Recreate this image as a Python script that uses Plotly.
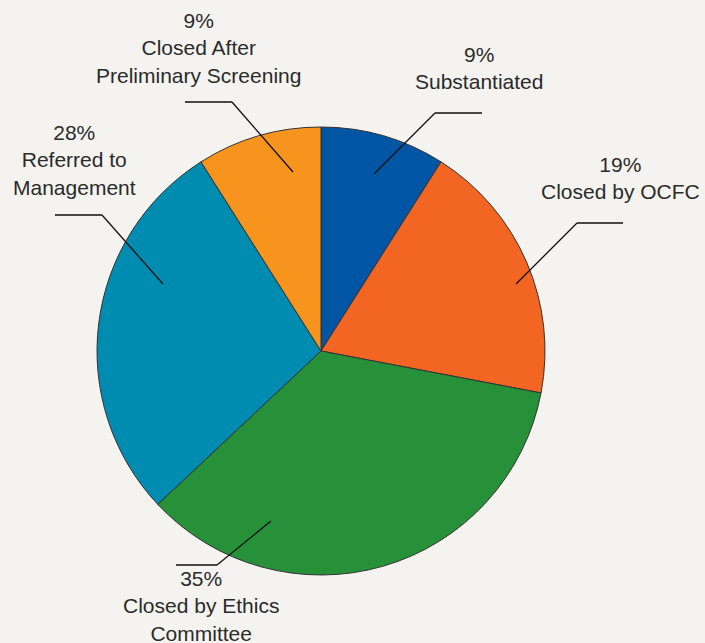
import plotly.graph_objects as go

# Complaint outcomes (share of cases, %)
categories = [
    "Substantiated",
    "Closed by OCFC",
    "Closed by Ethics Committee",
    "Referred to Management",
    "Closed After Preliminary Screening",
]
values = [9, 19, 35, 28, 9]
label_lines = [
    "Substantiated",
    "Closed by OCFC",
    "Closed by Ethics<br>Committee",
    "Referred to<br>Management",
    "Closed After<br>Preliminary Screening",
]
colors = ["#0055A5", "#F26522", "#27913A", "#008BB0", "#F7941D"]

W, H = 705, 643
BG = "#F4F3EF"
TEXT = "#2B2B2B"

# Layout helpers (pixel positions of label blocks and leader lines)
label_pos = [(479, 68), (620, 178), (201, 606), (74, 160), (198, 48)]
leaders = [
    [(374, 174), (435, 113), (482, 113)],
    [(516, 284), (577, 223), (623, 223)],
    [(271, 521), (217, 565), (176, 565)],
    [(163, 284), (102, 215), (55, 215)],
    [(293, 172), (232, 102), (185, 102)],
]


def px(x):
    return x / W


def py(y):
    return 1 - y / H


fig = go.Figure(
    go.Pie(
        labels=categories,
        values=values,
        sort=False,
        direction="clockwise",
        rotation=0,
        textinfo="none",
        hoverinfo="label+percent",
        marker=dict(colors=colors, line=dict(color="#333333", width=1)),
        domain=dict(x=[px(97), px(545)], y=[py(575), py(127)]),
        showlegend=False,
    )
)

for v, text, (x, y) in zip(values, label_lines, label_pos):
    fig.add_annotation(
        x=px(x), y=py(y), xref="paper", yref="paper",
        text=f"{v}%<br>{text}", showarrow=False,
        xanchor="center", yanchor="middle", align="center",
        font=dict(family="Arial, Liberation Sans, sans-serif", size=21, color=TEXT),
    )

for pts in leaders:
    for (x0, y0), (x1, y1) in zip(pts[:-1], pts[1:]):
        fig.add_shape(
            type="line", xref="paper", yref="paper",
            x0=px(x0), y0=py(y0), x1=px(x1), y1=py(y1),
            line=dict(color="#111111", width=1.3),
        )

fig.update_layout(
    width=W, height=H,
    margin=dict(l=0, r=0, t=0, b=0),
    paper_bgcolor=BG, plot_bgcolor=BG,
)

fig.write_html("out.html")
